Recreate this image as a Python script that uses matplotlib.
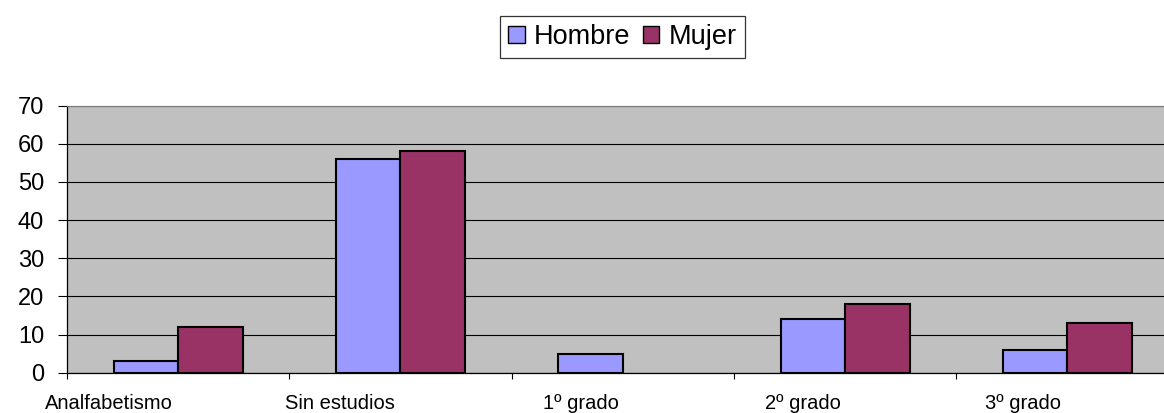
import numpy as np
import matplotlib.pyplot as plt
from matplotlib.patches import Patch

plt.rcParams['font.family'] = ['Liberation Sans', 'DejaVu Sans']

categories = ['Analfabetismo', 'Sin estudios', '1º grado', '2º grado', '3º grado']
hombre = [3, 56, 5, 14, 6]
mujer = [12, 58, 0, 18, 13]
yticks = [0, 10, 20, 30, 40, 50, 60, 70]

# where the labels sit relative to the category centre (Excel put them off-centre)
label_shift = [-0.31, -0.27, -0.19, -0.19, -0.2]

col_h = '#9999FF'
col_m = '#993366'

fig = plt.figure(figsize=(11.64, 4.13), dpi=100)
# plot area runs past the right edge in the original, so it gets cut off
ax = fig.add_axes([67 / 1164, 40.3 / 413, 1111.5 / 1164, 267 / 413])
ax.set_facecolor('#C0C0C0')

x = np.arange(len(categories)) + 0.5
w = 0.29
# zero-height bars get no outline, Excel doesn't draw them
lw_h = [1.5 if v > 0 else 0 for v in hombre]
lw_m = [1.5 if v > 0 else 0 for v in mujer]
ax.bar(x - w / 2, hombre, w, color=col_h, edgecolor='black', linewidth=lw_h, zorder=3)
ax.bar(x + w / 2, mujer, w, color=col_m, edgecolor='black', linewidth=lw_m, zorder=3)

ax.set_xlim(0, len(categories))
ax.set_ylim(0, 70)
ax.set_yticks(yticks)
ax.tick_params(axis='y', labelsize=17, length=6.5, width=0.8, pad=10)
ax.yaxis.grid(True, color='black', linewidth=0.8, zorder=0)
ax.set_axisbelow(True)

ax.set_xticks(np.arange(len(categories) + 1))
ax.set_xticklabels([])
ax.tick_params(axis='x', which='major', length=4, width=0.8)
ax.set_xticks(x + np.array(label_shift), minor=True)
ax.set_xticklabels(categories, minor=True)
ax.tick_params(axis='x', which='minor', length=0, labelsize=14.5, pad=15)

ax.spines['left'].set_color('black')
ax.spines['bottom'].set_color('black')
ax.spines['top'].set_color('#808080')
ax.spines['right'].set_visible(False)
for s in ['left', 'bottom', 'top']:
    ax.spines[s].set_linewidth(0.9)

handles = [Patch(facecolor=col_h, edgecolor='black', label='Hombre'),
           Patch(facecolor=col_m, edgecolor='black', label='Mujer')]
leg = fig.legend(handles=handles, loc='center', bbox_to_anchor=(622.5 / 1164, 1 - 37 / 413),
                 ncol=2, fontsize=19.5, frameon=True, fancybox=False,
                 handlelength=0.6, handleheight=0.6, handletextpad=0.35,
                 columnspacing=0.45, borderpad=0.3, borderaxespad=0)
leg.get_frame().set_edgecolor('black')
leg.get_frame().set_linewidth(0.9)

fig.savefig('out.png', dpi=100)
